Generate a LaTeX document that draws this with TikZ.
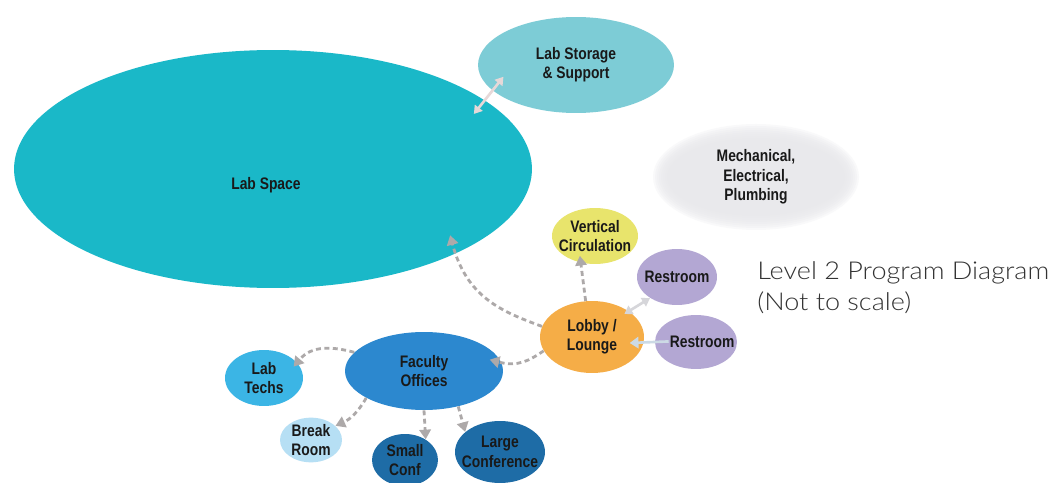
\documentclass[tikz,border=0pt]{standalone}
\usepackage{fontspec}
\usetikzlibrary{arrows.meta,shapes.geometric}
\newfontfamily\roomfont{Liberation Sans}[FakeStretch=0.83]
\newfontfamily\titlefont{Lato Light}[FakeStretch=1.1]
\definecolor{labteal}{HTML}{1AB8C8}
\definecolor{storeteal}{HTML}{7DCCD6}
\definecolor{mechgray}{HTML}{E9E9EC}
\definecolor{vertyellow}{HTML}{E8E46C}
\definecolor{restlilac}{HTML}{B3A7D3}
\definecolor{lobbyorange}{HTML}{F5AD47}
\definecolor{facblue}{HTML}{2C88CF}
\definecolor{techblue}{HTML}{3BB5E5}
\definecolor{breakblue}{HTML}{B6DFF4}
\definecolor{confblue}{HTML}{1E6CA6}
\definecolor{linkgray}{HTML}{ADA9A9}
\definecolor{palepink}{HTML}{E6D8D8}
\definecolor{palegray}{HTML}{D6D6DA}
\definecolor{paleblue}{HTML}{CCDAE5}
\definecolor{inkgray}{HTML}{333333}
\tikzset{
	room/.style={ellipse, inner xsep=-10pt, inner ysep=0pt, text=black!90, align=center,
		font=\roomfont\bfseries\fontsize{9.5}{11}\selectfont},
	link/.style={draw=linkgray, line width=1.6pt, dash pattern=on 2.8pt off 2pt,
		-{Triangle[length=5.5pt,width=6.5pt]}},
	pale/.style={line width=1.5pt, {Triangle[length=4.5pt,width=5.5pt]}-{Triangle[length=4.5pt,width=5.5pt]}}
}

\begin{document}
\begin{tikzpicture}[x=0.02cm, y=-0.02cm]
				\useasboundingbox[fill=white] (0,0) rectangle (1063,483);
				
				% big rooms
				\node[room, fill=labteal, minimum width=10.36cm, minimum height=4.76cm, text height=23.8pt, text depth=0pt] (labspace) at (273,169) {Lab Space\hspace{8pt}};
				\node[room, fill=storeteal, minimum width=3.92cm, minimum height=1.92cm] (storage) at (576,65) {Lab Storage\\\& Support};
				
				% blurred plant room
				\foreach \k in {0,...,7}
					\fill[mechgray, opacity=0.25] (756,177) ellipse [x radius={(89+2*\k)*0.02cm}, y radius={(39+2*\k)*0.02cm}];
				\node[room, minimum width=3.88cm, minimum height=1.88cm] (mech) at (756,177) {Mechanical,\\Electrical,\\Plumbing};
				
				% core
				\node[room, fill=vertyellow, minimum width=1.72cm, minimum height=1.12cm] (vertical) at (595,236) {Vertical\\Circulation};
				\node[room, fill=restlilac, minimum width=1.6cm, minimum height=1.12cm] (restroomA) at (677,277) {Restroom};
				\node[room, fill=lobbyorange, minimum width=2.08cm, minimum height=1.44cm] (lobby) at (592,337) {Lobby /\\Lounge};
				\node[room, fill=restlilac, minimum width=1.64cm, minimum height=1.08cm] (restroomB) at (696,342) {\hspace{7pt}Restroom};
				
				% offices
				\node[room, fill=facblue, minimum width=3.16cm, minimum height=1.56cm] (faculty) at (424,371) {Faculty\\Offices};
				\node[room, fill=techblue, minimum width=1.56cm, minimum height=1.12cm] (labtechs) at (264,378) {Lab\\Techs};
				\node[room, fill=breakblue, minimum width=1.24cm, minimum height=0.88cm] (breakroom) at (311,440) {Break\\Room};
				\node[room, fill=confblue, minimum width=1.32cm, minimum height=1.04cm] (smallconf) at (405,460) {Small\\Conf};
				\node[room, fill=confblue, minimum width=1.8cm, minimum height=1.24cm] (largeconf) at (500,452) {Large\\Conference};
				
				% links
				\draw[pale, draw=palepink, shorten <=-10pt, shorten >=-10pt] (labspace.18) -- (storage.197);
				\draw[link, shorten >=-11pt] (lobby.168) to[out=160, in=-75] (labspace.-25);
				\draw[link, shorten >=-4pt] (lobby.100) -- (vertical.-118);
				\draw[pale, draw=palegray, shorten <=-3pt] (lobby.35) -- (restroomA.218);
				\draw[line width=1.5pt, draw=paleblue, -{Triangle[length=5pt,width=6.5pt]}, shorten <=-8pt, shorten >=-8pt] (restroomB.west) -- (lobby.-6);
				\draw[link, shorten >=-7pt] (lobby.196) to[out=214, in=-15] (faculty.6);
				\draw[link, shorten >=-3pt] (faculty.165) to[out=165, in=50] (labtechs.25);
				\draw[link] (faculty.205) to[out=240, in=24] (breakroom.30);
				\draw[link] (faculty.south) -- (smallconf.45);
				\draw[link] (faculty.-46) -- (largeconf.150);
				
				\node[anchor=west, align=left, inner sep=0pt, text=inkgray, font=\titlefont\fontsize{14}{17.5}\selectfont] (title) at (757,288) {Level 2 Program Diagram\\(Not to scale)};
\end{tikzpicture}
\end{document}
